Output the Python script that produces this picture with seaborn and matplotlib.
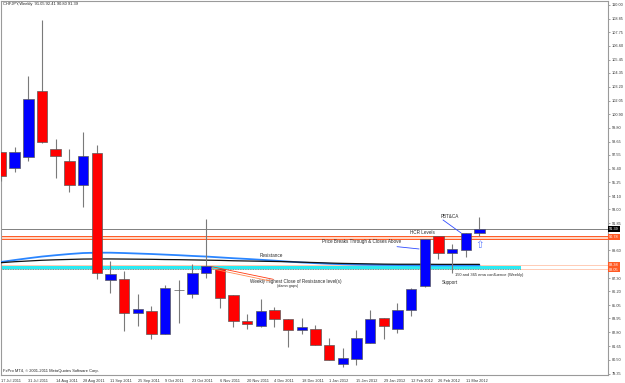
import matplotlib
matplotlib.use("Agg")
import matplotlib.pyplot as plt
import seaborn as sns
import numpy as np
import pandas as pd

# ---------------- data ----------------
weeks = ["17 Jul 2011", "24 Jul 2011", "31 Jul 2011", "7 Aug 2011", "14 Aug 2011",
         "21 Aug 2011", "28 Aug 2011", "4 Sep 2011", "11 Sep 2011", "18 Sep 2011",
         "25 Sep 2011", "2 Oct 2011", "9 Oct 2011", "16 Oct 2011", "23 Oct 2011",
         "30 Oct 2011", "6 Nov 2011", "13 Nov 2011", "20 Nov 2011", "27 Nov 2011",
         "4 Dec 2011", "11 Dec 2011", "18 Dec 2011", "25 Dec 2011", "1 Jan 2012",
         "8 Jan 2012", "15 Jan 2012", "22 Jan 2012", "29 Jan 2012", "5 Feb 2012",
         "12 Feb 2012", "19 Feb 2012", "26 Feb 2012", "4 Mar 2012", "11 Mar 2012",
         "18 Mar 2012"]

open_ = [97.78, 96.45, 97.36, 102.85, 98.03, 97.03, 95.04, 97.70, 87.14, 87.22,
         84.40, 84.56, 82.65, 86.31, 85.98, 87.72, 88.05, 85.89, 83.73, 83.32,
         84.65, 83.90, 82.98, 83.07, 81.74, 80.16, 80.57, 81.90, 83.98, 83.07,
         84.65, 86.64, 90.80, 89.39, 89.63, 91.05]
high = [97.78, 98.20, 104.10, 108.75, 98.86, 98.03, 99.44, 98.36, 88.72, 87.89,
        85.98, 84.98, 86.72, 87.14, 88.47, 92.20, 88.05, 85.89, 84.31, 85.56,
        84.90, 83.90, 83.98, 83.40, 82.32, 81.49, 82.98, 84.65, 83.98, 85.23,
        86.48, 90.55, 90.80, 90.13, 91.05, 92.41]
low = [95.37, 96.12, 97.03, 98.53, 95.62, 94.46, 93.21, 87.22, 86.06, 82.90,
       83.32, 82.24, 82.65, 83.57, 85.64, 87.31, 84.81, 83.23, 83.07, 83.23,
       83.23, 81.57, 82.65, 81.74, 80.49, 79.91, 80.07, 81.90, 82.24, 82.73,
       84.15, 86.56, 88.89, 87.72, 89.05, 90.80]
close = [95.79, 97.78, 102.19, 98.61, 97.45, 95.04, 97.45, 87.72, 87.64, 84.40,
         84.73, 82.65, 86.48, 86.31, 87.72, 88.30, 85.64, 83.73, 83.48, 84.56,
         83.90, 82.98, 83.23, 81.74, 80.49, 80.66, 82.32, 83.90, 83.32, 84.65,
         86.39, 90.55, 89.39, 89.72, 91.05, 91.39]

ema150 = [88.64, 88.80, 88.95, 89.09, 89.20, 89.30, 89.38, 89.41, 89.41, 89.38,
          89.34, 89.30, 89.25, 89.20, 89.14, 89.09, 89.02, 88.95, 88.89, 88.82,
          88.75, 88.67, 88.60, 88.54, 88.49, 88.45, 88.42, 88.40, 88.39, 88.38,
          88.37, 88.36, 88.36, 88.36, 88.36, 88.36]
ema365 = [88.58, 88.66, 88.72, 88.78, 88.82, 88.85, 88.88, 88.89, 88.89, 88.88,
          88.87, 88.86, 88.84, 88.83, 88.81, 88.79, 88.77, 88.74, 88.72, 88.70,
          88.68, 88.66, 88.62, 88.59, 88.55, 88.52, 88.50, 88.48, 88.46, 88.45,
          88.45, 88.45, 88.44, 88.44, 88.44, 88.44]

ytick_vals = [110.00, 108.85, 107.75, 106.60, 105.45, 104.35, 103.20, 102.05,
              100.90, 99.80, 98.65, 97.55, 96.40, 95.25, 94.10, 93.00, 91.85,
              89.60, 87.30, 86.20, 85.05, 83.95, 82.80, 81.65, 80.50, 79.35]

last_close = 91.39
hcr_top, hcr_bot = 90.77, 90.57
zone_top, zone_bot = 88.33, 88.03
level_a, level_b = 88.38, 88.05

# ---------------- figure ----------------
sns.set_style("white")
plt.rcParams["font.family"] = ["Liberation Sans", "DejaVu Sans"]

fig = plt.figure(figsize=(6.25, 3.83), dpi=100)
ax = fig.add_axes([0.0008, 0.0217, 0.9720, 0.9757])
ax.set_facecolor("white")

idx = np.arange(len(weeks))
o = np.array(open_); c = np.array(close); h = np.array(high); l = np.array(low)

# horizontal levels
ax.axhline(last_close, color="#808080", lw=0.7, zorder=1)
ax.axhspan(hcr_bot, hcr_top, color="#FFD6C2", lw=0, zorder=1)
ax.axhline(hcr_top, color="#FF5A24", lw=0.7, zorder=1)
ax.axhline(hcr_bot, color="#FF5A24", lw=0.7, zorder=1)
ax.axhline(level_a, color="#FFC4AA", lw=0.6, zorder=1)
ax.axhline(level_b, color="#FFC4AA", lw=0.6, zorder=1)

xl = (-0.037, 44.40)
ax.fill_between([xl[0], 38.0], zone_bot, zone_top, color="#2DEAF2", lw=0, zorder=2)
ax.plot([xl[0], 38.0], [zone_bot + 0.02, zone_bot + 0.02], color="#00A8B8", lw=0.6,
        ls=(0, (1, 1)), zorder=2)

# EMAs
df = pd.DataFrame({"i": idx, "ema150": ema150, "ema365": ema365})
sns.lineplot(data=df, x="i", y="ema150", color="#2A85FF", lw=1.3, ax=ax, zorder=3)
sns.lineplot(data=df, x="i", y="ema365", color="#111111", lw=0.9, ax=ax, zorder=3)

# candles
cols = np.where(c > o, "#0000FF", np.where(c < o, "#FF0000", "#808080"))
ax.vlines(idx, l, h, color="#7A7A7A", lw=0.8, zorder=4)
ax.bar(idx, np.abs(c - o), bottom=np.minimum(o, c), width=0.76, color=cols,
       edgecolor="#5A5A5A", linewidth=0.5, zorder=5)

# annotations
tc = "#2A2A2A"
ax.text(23.48, 90.30, "Price Breaks Through & Closes Above", fontsize=3.3, color=tc,
        va="center", ha="left", zorder=6)
ax.plot([28.97, 30.58], [89.91, 89.72], color="#2F4BFF", lw=0.6, zorder=6)
ax.text(29.92, 91.05, "HCR Levels", fontsize=3.3, color=tc, va="center", ha="left", zorder=6)
ax.text(32.19, 92.38, "PBT&CA", fontsize=3.3, color=tc, va="center", ha="left", zorder=6)
ax.plot([32.33, 33.65], [92.13, 91.05], color="#2F4BFF", lw=0.6, zorder=6)
ax.text(18.95, 89.14, "Resistance", fontsize=3.3, color=tc, va="center", ha="left", zorder=6)
ax.text(32.26, 86.97, "Support", fontsize=3.3, color=tc, va="center", ha="left", zorder=6)
ax.text(33.21, 87.56, "150 and 365 ema confluence (Weekly)", fontsize=2.9, color=tc,
        va="center", ha="left", zorder=6)
ax.text(18.21, 86.99, "Weekly Highest Close of Resistance level(s)", fontsize=3.3,
        color=tc, va="center", ha="left", zorder=6)
ax.text(21.0, 86.64, "(damn gaps)", fontsize=2.7, color=tc, va="center", ha="center", zorder=6)
ax.plot([15.41, 19.90], [88.25, 87.20], color="#FF3A10", lw=0.6, zorder=6)
ax.plot([15.41, 19.68], [88.08, 87.06], color="#FF8A50", lw=0.6, zorder=6)
ax.text(35.0, 90.05, "\u21e7", fontsize=7.5, color="#5B7BFF", va="center", ha="center",
        family=["DejaVu Sans"], zorder=6)

# axes
ax.set_xlim(*xl)
ax.set_ylim(79.27, 110.33)
ax.set_xlabel("")
ax.set_ylabel("")
ax.set_xticks(idx[::2])
ax.set_xticklabels(weeks[::2], fontsize=2.8, color="#333333")
for lbl in ax.get_xticklabels():
    lbl.set_ha("left")
ax.yaxis.tick_right()
ax.set_yticks(ytick_vals)
ax.set_yticklabels([f"{v:.2f}" for v in ytick_vals], fontsize=2.8, color="#333333")
ax.tick_params(axis="both", direction="out", length=1.6, width=0.5, color="#808080", pad=1.2)
for s in ax.spines.values():
    s.set_color("#9A9A9A")
    s.set_linewidth(0.8)
    s.set_visible(True)

# price labels on right axis
ytr = ax.get_yaxis_transform()
ax.text(1.002, last_close, "91.39", transform=ytr, fontsize=2.8, color="white",
        va="center", ha="left", bbox=dict(boxstyle="square,pad=0.2", fc="black", ec="none"),
        clip_on=False)
ax.text(1.002, 90.70, "90.78", transform=ytr, fontsize=2.8, color="white",
        va="center", ha="left", bbox=dict(boxstyle="square,pad=0.2", fc="#FF5A24", ec="none"),
        clip_on=False)
ax.text(1.002, level_a, "88.38", transform=ytr, fontsize=2.8, color="white",
        va="center", ha="left", bbox=dict(boxstyle="square,pad=0.2", fc="#FF5A24", ec="none"),
        clip_on=False)
ax.text(1.002, level_b - 0.05, "88.05", transform=ytr, fontsize=2.8, color="white",
        va="center", ha="left", bbox=dict(boxstyle="square,pad=0.2", fc="#FF5A24", ec="none"),
        clip_on=False)

# header / footer text
ax.text(0.004, 0.996, "CHFJPY,Weekly  91.05 92.41 90.80 91.39", transform=ax.transAxes,
        fontsize=2.9, color="#222222", va="top", ha="left")
ax.text(0.004, 0.004, "FxPro MT4, \u00a9 2001-2011 MetaQuotes Software Corp.",
        transform=ax.transAxes, fontsize=2.9, color="#222222", va="bottom", ha="left")

fig.savefig("out.png", dpi=100, facecolor="white")
